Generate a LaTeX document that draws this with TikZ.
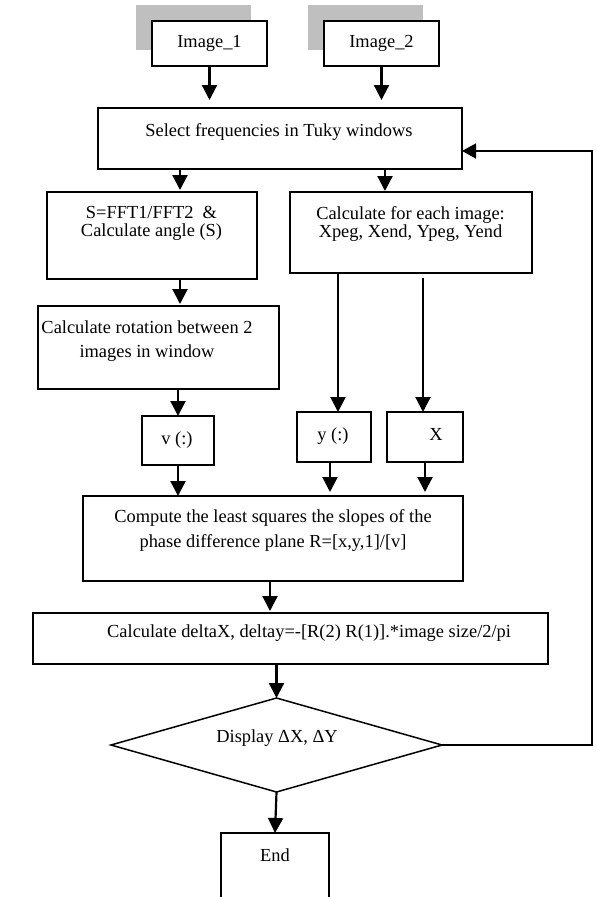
\documentclass[tikz,border=0pt]{standalone}
\usepackage{fontspec}
\setmainfont{Liberation Serif}
\usetikzlibrary{arrows.meta,shapes.geometric,calc}
\definecolor{shade}{RGB}{191,191,191}
\newcommand\mkbox[6][]{\node[box,#1,minimum width=#5pt,minimum height=#6pt] (#2) at (#3,#4) {};}
\begin{document}
\begin{tikzpicture}[x=1pt,y=-1pt,
  box/.style={draw,line width=1.5pt,rectangle,inner sep=0pt,outer sep=0pt,fill=white},
  shadowbox/.style={rectangle,fill=shade,inner sep=0pt,outer sep=0pt},
  arr/.style={line width=2.2pt,-{Triangle[length=15pt,width=15pt]}},
  loopline/.style={line width=1.6pt,-{Triangle[length=14pt,width=15pt]}},
  txt/.style={inner sep=0pt,align=center,font=\fontsize{18.4}{18}\selectfont},
  txtwide/.style={inner sep=0pt,align=center,font=\fontsize{18.4}{24.5}\selectfont}]
\useasboundingbox (0,0) rectangle (595,897);
\clip (0,0) rectangle (595,897);
% shadows
\node[shadowbox,minimum width=115pt,minimum height=45pt] (sh1) at (193.5,27.5) {};
\node[shadowbox,minimum width=115pt,minimum height=45pt] (sh2) at (365.5,27.5) {};
% boxes
\mkbox{img1}{209.5}{43.5}{115}{45}
\mkbox{img2}{381.5}{43.5}{115}{45}
\mkbox{sel}{280}{138.5}{364}{61}
\mkbox{sfft}{152}{235.5}{210}{87}
\mkbox{ceach}{411}{232.5}{242}{81}
\mkbox{rot}{158.5}{347.5}{241}{83}
\mkbox{vbox}{178}{440.5}{72}{49}
\mkbox{ybox}{334}{437}{74}{50}
\mkbox{xbox}{425}{437}{76}{50}
\mkbox{comp}{273}{538.5}{380}{85}
\mkbox{cdelta}{290.5}{638.5}{515}{51}
\node[draw,line width=1.5pt,diamond,inner sep=0pt,outer sep=0pt,minimum width=331pt,minimum height=94pt] (dia) at (276.5,745) {};
\mkbox{endb}{275}{871.5}{108}{77}
% texts
\node[txt] (t1) at (209.5,43.5) {Image\_1};
\node[txt] (t2) at (381.5,43.5) {Image\_2};
\node[txt] (tsel) at (279,132) {Select frequencies in Tuky windows};
\node[txt] (tsfft) at (151.5,223) {S=FFT1/FFT2~~\&\\Calculate angle (S)};
\node[txt] (tceach) at (410.5,224) {Calculate for each image:\\Xpeg, Xend, Ypeg, Yend};
\node[txtwide] (trot) at (147,341) {Calculate rotation between 2\\images in window};
\node[txt] (tv) at (177,440) {v (:)};
\node[txt] (ty) at (333,436) {y (:)};
\node[txt] (tX) at (436,434) {X};
\node[txtwide] (tcomp) at (273,530.5) {Compute the least squares the slopes of the\\phase difference plane R=[x,y,1]/[v]};
\node[txt,anchor=west] (tcd) at (107,633) {Calculate deltaX, deltay=-[R(2) R(1)].*image size/2/pi};
\node[txt] (tdia) at (277,738) {Display ΔX, ΔY};
\node[txt] (tend) at (275,855) {End};
% column coordinates
\coordinate (xA) at (180,0);
\coordinate (xB) at (385,0);
\coordinate (xC) at (338,0);
\coordinate (xD) at (423,0);
\coordinate (xE) at (330,0);
\coordinate (xF) at (270,0);
\coordinate (loopin) at (592,151);
% connectors
\draw[arr] (img1.south) -- ($(sel.north -| img1.south)+(0,-8)$);
\draw[arr] (img2.south) -- ($(sel.north -| img2.south)+(0,-8)$);
\draw[arr] (sel.south -| xA) -- ($(sfft.north -| xA)+(0,-2)$);
\draw[arr] (sel.south -| xB) -- ($(ceach.north -| xB)+(0,-1)$);
\draw[arr] (sfft.south -| xA) -- ($(rot.north -| xA)+(0,-2)$);
\draw[arr] (rot.south -| vbox.north) -- (vbox.north);
\draw[arr] (ceach.south -| xC) -- (ybox.north -| xC);
\draw[arr] ($(ceach.south -| xD)+(0,5)$) -- (xbox.north -| xD);
\draw[arr] (vbox.south) -- (comp.north -| vbox.south);
\draw[arr] (ybox.south -| xE) -- ($(comp.north -| xE)+(0,-4)$);
\draw[arr] (xbox.south) -- ($(comp.north -| xbox.south)+(0,-4)$);
\draw[arr] (comp.south -| xF) -- ($(cdelta.north -| xF)+(0,-2)$);
\draw[arr] (cdelta.south -| dia.north) -- (dia.north);
\draw[arr] (dia.south) -- (endb.north);
\draw[loopline] (dia.east) -| (loopin) -- (loopin -| sel.east);
\end{tikzpicture}
\end{document}
